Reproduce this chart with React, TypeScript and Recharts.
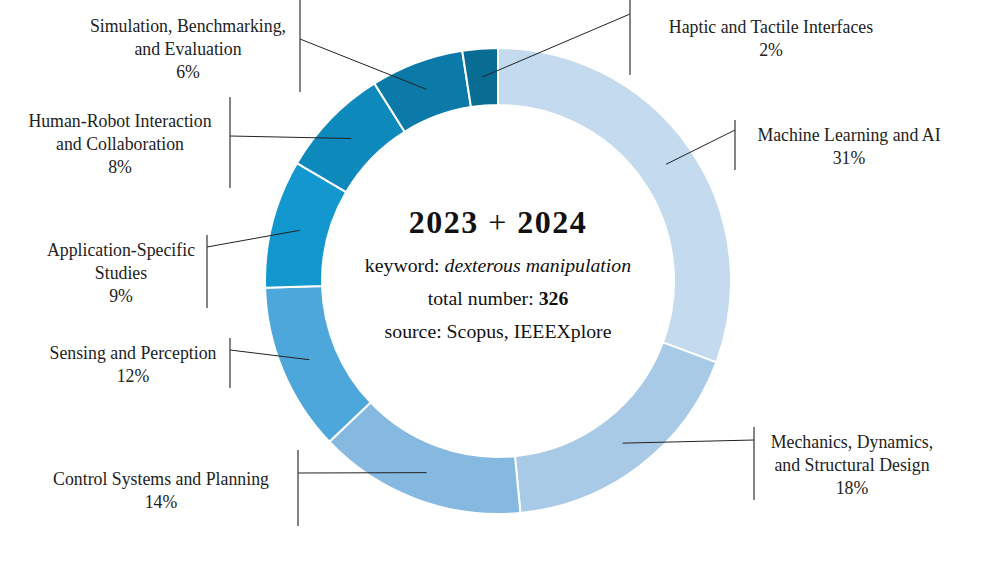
import React from "react";
import { PieChart, Pie, Cell, Label } from "recharts";

// categories go clockwise from 12 o'clock
const CATEGORIES = [
  "Machine Learning and AI",
  "Mechanics, Dynamics,\nand Structural Design",
  "Control Systems and Planning",
  "Sensing and Perception",
  "Application-Specific\nStudies",
  "Human-Robot Interaction\nand Collaboration",
  "Simulation, Benchmarking,\nand Evaluation",
  "Haptic and Tactile Interfaces",
];
const COUNTS = [100, 58, 47, 38, 29, 25, 21, 8];

const COLORS = [
  "#c4daee",
  "#a8cae6",
  "#85b9e0",
  "#4ea7da",
  "#1298ce",
  "#0e89bc",
  "#0b7aa8",
  "#096c92",
];

// where each callout sits (bracket bar + text block)
const LABEL_LAYOUT = [
  { barX: 735, barTop: 120, barBottom: 170, joinY: 130, textX: 849, textY: 141 },
  { barX: 754, barTop: 427, barBottom: 500, joinY: 440, textX: 852, textY: 448 },
  { barX: 298, barTop: 450, barBottom: 526, joinY: 473, textX: 161, textY: 485 },
  { barX: 230, barTop: 338, barBottom: 388, joinY: 350, textX: 133, textY: 359 },
  { barX: 207, barTop: 235, barBottom: 308, joinY: 247, textX: 121, textY: 256 },
  { barX: 230, barTop: 97, barBottom: 188, joinY: 136, textX: 120, textY: 127 },
  { barX: 300, barTop: 0, barBottom: 92, joinY: 39, textX: 188, textY: 32 },
  { barX: 630, barTop: 0, barBottom: 75, joinY: 14, textX: 771, textY: 33 },
];

const FONT = "'Liberation Serif', 'Times New Roman', serif";
const TOTAL = COUNTS.reduce((s, c) => s + c, 0);

const data = CATEGORIES.map((name, i) => ({ name, value: COUNTS[i] }));

const RADIAN = Math.PI / 180;

const renderLabel = (props: any) => {
  const { cx, cy, midAngle, innerRadius, outerRadius, index } = props;
  const r = (innerRadius + outerRadius) / 2;
  const sx = cx + r * Math.cos(-midAngle * RADIAN);
  const sy = cy + r * Math.sin(-midAngle * RADIAN);
  const lay = LABEL_LAYOUT[index];
  const lines = CATEGORIES[index].split("\n");
  lines.push(Math.round((COUNTS[index] / TOTAL) * 100) + "%");
  return (
    <g key={"lbl" + index}>
      <line x1={sx} y1={sy} x2={lay.barX} y2={lay.joinY} stroke="#222" strokeWidth={1} />
      <line x1={lay.barX} y1={lay.barTop} x2={lay.barX} y2={lay.barBottom} stroke="#333" strokeWidth={1.2} />
      <text
        x={lay.textX}
        y={lay.textY}
        textAnchor="middle"
        style={{ fontFamily: FONT }}
        fontSize={17.8}
        fill="#222"
      >
        {lines.map((l, i) => (
          <tspan key={i} x={lay.textX} dy={i === 0 ? 0 : 23}>
            {l}
          </tspan>
        ))}
      </text>
    </g>
  );
};

const CenterText = (props: any) => {
  const cx = props.viewBox?.cx ?? 498;
  return (
    <g style={{ fontFamily: FONT }} fill="#111" textAnchor="middle">
      <text x={cx} y={233} fontSize={32} letterSpacing={1.5}>
        <tspan fontWeight="bold">2023</tspan>
        <tspan>{"\u00a0+\u00a0"}</tspan>
        <tspan fontWeight="bold">2024</tspan>
      </text>
      <text x={cx} y={272} fontSize={19.8}>
        keyword: <tspan fontStyle="italic">dexterous manipulation</tspan>
      </text>
      <text x={cx} y={305} fontSize={19.8}>
        total number: <tspan fontWeight="bold">{TOTAL}</tspan>
      </text>
      <text x={cx} y={338} fontSize={19.8}>
        source: Scopus, IEEEXplore
      </text>
    </g>
  );
};

export default function App() {
  return (
    <div style={{ position: "absolute", left: 0, top: 0, background: "#fff" }}>
      <PieChart width={997} height={561} margin={{ top: 0, right: 0, bottom: 0, left: 0 }}>
        <Pie
          data={data}
          dataKey="value"
          cx={498}
          cy={281}
          innerRadius={176}
          outerRadius={233}
          startAngle={90}
          endAngle={-270}
          stroke="#fff"
          strokeWidth={2}
          isAnimationActive={false}
          label={renderLabel}
          labelLine={false}
        >
          {data.map((d, i) => (
            <Cell key={d.name} fill={COLORS[i]} />
          ))}
          <Label position="center" content={<CenterText />} />
        </Pie>
      </PieChart>
    </div>
  );
}
